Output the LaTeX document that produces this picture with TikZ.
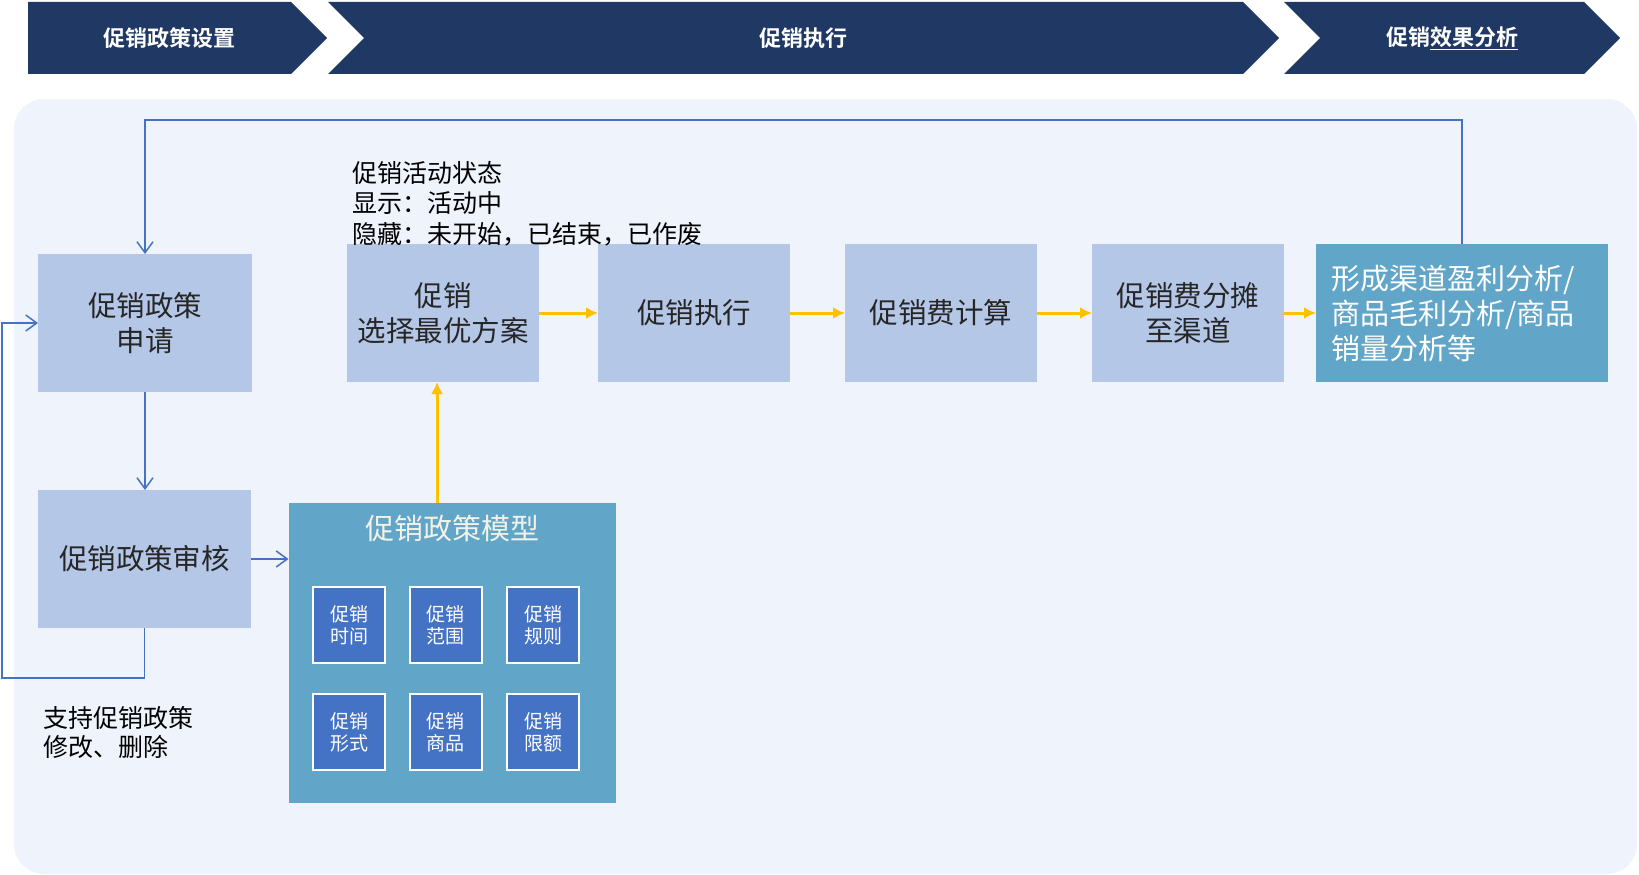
\documentclass[tikz,border=0pt]{standalone}
\usepackage{fontspec}
\setmainfont{Noto Sans CJK SC}[BoldFont={Noto Sans CJK SC Bold}]
\usepackage{xcolor}
\usepackage{tikz}
\usetikzlibrary{shapes,arrows,arrows.meta,positioning}
\definecolor{navy}{RGB}{32,56,100}
\definecolor{panel}{RGB}{238,243,252}
\definecolor{boxblue}{RGB}{180,199,231}
\definecolor{modelblue}{RGB}{97,166,200}
\definecolor{itemblue}{RGB}{68,114,196}
\definecolor{lineblue}{RGB}{68,114,196}
\definecolor{arrowyellow}{RGB}{255,192,0}
\definecolor{txtgray}{RGB}{38,38,38}
\definecolor{titlewhite}{RGB}{242,242,232}
\tikzstyle{block} = [rectangle, fill=boxblue, text=txtgray, align=center, inner sep=0pt, outer sep=0pt,
    minimum width=192pt, minimum height=138pt, font=\fontsize{28.5}{35}\selectfont]
\tikzstyle{model} = [rectangle, fill=modelblue, inner sep=0pt, outer sep=0pt]
\tikzstyle{item} = [rectangle, draw=white, line width=2pt, fill=itemblue, text=white, align=center,
    inner sep=0pt, minimum width=72pt, minimum height=76pt, font=\fontsize{19}{22}\selectfont]
\tikzstyle{note} = [align=left, anchor=north west, inner sep=0pt, text=black]
\tikzstyle{phase} = [text=white, font=\fontsize{22}{26}\selectfont\bfseries]
\tikzstyle{line} = [draw, arrowyellow, line width=3pt, -{Latex[length=12pt,width=12pt]}]
\tikzstyle{feedback} = [draw, lineblue, line width=1.5pt, -{Straight Barb[length=11pt,width=16pt]}]

\begin{document}
\begin{tikzpicture}[x=1pt,y=-1pt,node distance=55pt,auto]
      \useasboundingbox (0,0) rectangle (1639,875);
      % phase banner
      \fill[navy] (28,2) -- (291,2) -- (327,38) -- (291,74) -- (28,74) -- cycle;
      \fill[navy] (328,2) -- (1243,2) -- (1279,38) -- (1243,74) -- (328,74) -- (364,38) -- cycle;
      \fill[navy] (1284,2) -- (1584,2) -- (1620,38) -- (1584,74) -- (1284,74) -- (1320,38) -- cycle;
      \node [phase] (setup) at (169,38) {促销政策设置};
      \node [phase] (exec) at (803,38) {促销执行};
      \node [phase] (effect) at (1452,38) {促销\underline{效果分析}};

      % panel
      \fill[panel, rounded corners=30pt] (14,99) rectangle (1637,874);

      \node [block, minimum width=214pt] (apply) at (145,323) {促销政策\\申请};
      \node [block, minimum width=213pt] (review) at (144.5,559) {促销政策审核};
      \node [block] (select) at (443,313) {促销\\选择最优方案};
      \node [block, right=59pt of select] (run) {促销执行};
      \node [block, right=55pt of run] (fee) {促销费计算};
      \node [block, right=55pt of fee] (alloc) {促销费分摊\\至渠道};
      \node [block, right=32pt of alloc, fill=modelblue, text=white, minimum width=292pt,
          text width=262pt, align=left, font=\fontsize{29}{35}\selectfont] (result) {形成渠道盈利分析/\\商品毛利分析/商品\\销量分析等};

      \node [model, minimum width=327pt, minimum height=300pt] (model) at (452,653) {};
      \node [text=titlewhite, font=\fontsize{29}{34}\selectfont] (mtitle) at (452,528) {促销政策模型};
      \node [item] (time) at (349,625) {促销\\时间};
      \node [item] (range) at (445.5,625) {促销\\范围};
      \node [item] (rule) at (543,625) {促销\\规则};
      \node [item] (form) at (349,732) {促销\\形式};
      \node [item] (goods) at (445.5,732) {促销\\商品};
      \node [item] (quota) at (543,732) {促销\\限额};

      \node [note, font=\fontsize{25}{30.5}\selectfont] (state) at (352,161) {促销活动状态\\显示：活动中\\隐藏：未开始，已结束，已作废};
      \node [note, font=\fontsize{25}{29}\selectfont] (edit) at (43,706) {支持促销政策\\修改、删除};

      \coordinate (topline) at (800,120);
      \coordinate (leftline) at (2,678);

      \path [feedback] (result.north) |- (topline) -| (apply.north);
      \path [feedback] (apply.south) -- (apply.south |- review.north);
      \path [feedback] (review.south) |- (leftline) |- (apply.west);
      \path [feedback] (review.east) -- (review.east -| model.west);

      \path [line] ([xshift=-15pt]model.north) -- ([xshift=-15pt]model.north |- select.south);
      \path [line] (select) -- (run);
      \path [line] (run) -- (fee);
      \path [line] (fee) -- (alloc);
      \path [line] (alloc.east) -- (alloc.east -| result.west);

    \end{tikzpicture}
\end{document}
